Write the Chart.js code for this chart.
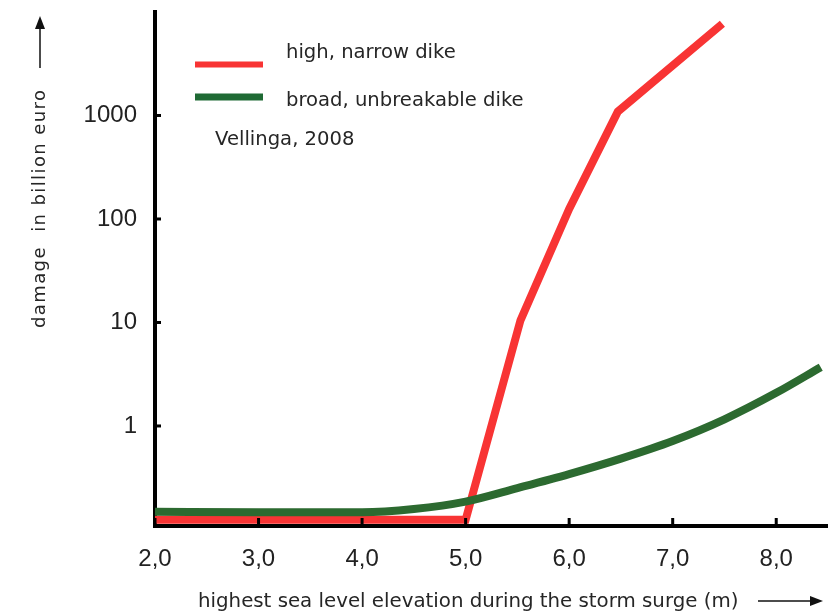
<!DOCTYPE html>
<html>
<head>
<meta charset="utf-8">
<title>Storm surge damage</title>
<script src="https://cdn.jsdelivr.net/npm/chart.js@4.4.1/dist/chart.umd.min.js"></script>
<style>
  html, body { margin: 0; padding: 0; background: #fff; }
  #wrap { width: 828px; height: 614px; }
</style>
</head>
<body>
<div id="wrap"><canvas id="damageChart" width="828" height="614"></canvas></div>
<script>
// values (x in m, y in billion euro)
const seriesNames = ['high, narrow dike', 'broad, unbreakable dike'];
const sourceNote = 'Vellinga, 2008';
const xTitle = 'highest sea level elevation during the storm surge (m)';
const yTitle = 'damage  in billion euro';

const narrowX = [2.0, 5.0, 5.53, 6.0, 6.47, 7.48];
const narrowY = [0.124, 0.124, 10.5, 125, 1090, 7700];

const broadX = [2.0, 3.0, 4.0, 4.5, 5.0, 5.5, 6.0, 6.5, 7.0, 7.5, 8.0, 8.43];
const broadY = [0.148, 0.147, 0.147, 0.158, 0.186, 0.251, 0.343, 0.484, 0.716, 1.16, 2.09, 3.7];

const xTicks = [2, 3, 4, 5, 6, 7, 8];
const yTicks = [1, 10, 100, 1000];

const RED = '#f83434';
const GREEN = '#2c6a30';
const TEXT = '#262626';

const toPoints = (xs, ys) => xs.map((x, i) => ({ x: x, y: ys[i] }));

// inward tick marks, legend, axis titles and arrows
const decorations = {
  id: 'decorations',
  afterDatasetsDraw(chart) {
    const ctx = chart.ctx;
    const xs = chart.scales.x;
    const ys = chart.scales.y;
    const area = chart.chartArea;
    ctx.save();
    ctx.fillStyle = '#000';
    yTicks.forEach(v => {
      const py = ys.getPixelForValue(v);
      ctx.fillRect(area.left + 1, py - 1.5, 5, 3);
    });
    xTicks.forEach(v => {
      const px = xs.getPixelForValue(v);
      ctx.fillRect(px - 1.5, area.bottom - 8, 3, 8);
    });
    ctx.restore();
  },
  afterDraw(chart) {
    const ctx = chart.ctx;
    ctx.save();

    // legend
    ctx.lineCap = 'butt';
    ctx.strokeStyle = RED;
    ctx.lineWidth = 6;
    ctx.beginPath(); ctx.moveTo(195, 64.5); ctx.lineTo(263, 64.5); ctx.stroke();
    ctx.strokeStyle = '#1f6a34';
    ctx.lineWidth = 7;
    ctx.beginPath(); ctx.moveTo(195, 97); ctx.lineTo(263, 97); ctx.stroke();

    ctx.fillStyle = TEXT;
    ctx.font = '19.6px "DejaVu Sans"';
    ctx.textAlign = 'left';
    ctx.textBaseline = 'middle';
    ctx.fillText(seriesNames[0], 286, 53);
    ctx.fillText(seriesNames[1], 286, 101);
    ctx.fillText(sourceNote, 215, 140);

    // x title + arrow
    ctx.font = '19.8px "DejaVu Sans"';
    ctx.fillText(xTitle, 198, 602);
    ctx.strokeStyle = '#111';
    ctx.fillStyle = '#111';
    ctx.lineWidth = 1.5;
    ctx.beginPath(); ctx.moveTo(758, 601); ctx.lineTo(814, 601); ctx.stroke();
    ctx.beginPath(); ctx.moveTo(823, 601); ctx.lineTo(810, 596); ctx.lineTo(810, 606); ctx.closePath(); ctx.fill();

    // y title + arrow
    ctx.save();
    ctx.translate(40, 328);
    ctx.rotate(-Math.PI / 2);
    ctx.fillStyle = TEXT;
    ctx.font = '18px "DejaVu Sans"';
    ctx.letterSpacing = '1.4px';
    ctx.fillText(yTitle, 0, 0);
    ctx.restore();
    ctx.beginPath(); ctx.moveTo(40, 68); ctx.lineTo(40, 24); ctx.stroke();
    ctx.beginPath(); ctx.moveTo(40, 16); ctx.lineTo(35, 29); ctx.lineTo(45, 29); ctx.closePath(); ctx.fill();

    ctx.restore();
  }
};

const ctx = document.getElementById('damageChart').getContext('2d');
new Chart(ctx, {
  type: 'line',
  data: {
    datasets: [
      {
        label: seriesNames[1],
        data: toPoints(broadX, broadY),
        borderColor: GREEN,
        borderWidth: 8,
        pointRadius: 0,
        cubicInterpolationMode: 'monotone',
        fill: false
      },
      {
        label: seriesNames[0],
        data: toPoints(narrowX, narrowY),
        borderColor: RED,
        borderWidth: 8,
        pointRadius: 0,
        tension: 0,
        fill: false
      }
    ]
  },
  options: {
    responsive: false,
    animation: false,
    events: [],
    layout: { padding: { top: 12, right: 0, left: 0, bottom: 0 } },
    plugins: {
      legend: { display: false },
      tooltip: { enabled: false }
    },
    scales: {
      x: {
        type: 'linear',
        min: 2,
        max: 8.5,
        afterFit: s => { s.height = 88; s.paddingLeft = 0; s.paddingRight = 0; },
        afterBuildTicks: s => { s.ticks = xTicks.map(v => ({ value: v })); },
        grid: { display: true, drawOnChartArea: false, drawTicks: false },
        border: { display: true, color: '#000', width: 4 },
        ticks: {
          padding: 19,
          color: '#222',
          font: { family: '"Liberation Sans", Arial', size: 24 },
          maxRotation: 0,
          callback: v => v.toFixed(1).replace('.', ',')
        }
      },
      y: {
        type: 'logarithmic',
        min: 0.108,
        max: 10000,
        afterFit: s => { s.width = 155; s.paddingTop = 0; s.paddingBottom = 0; },
        afterBuildTicks: s => { s.ticks = yTicks.map(v => ({ value: v })); },
        grid: { display: true, drawOnChartArea: false, drawTicks: false },
        border: { display: true, color: '#000', width: 4 },
        ticks: {
          padding: 18,
          color: '#222',
          font: { family: '"Liberation Sans", Arial', size: 24 },
          callback: v => String(v)
        }
      }
    }
  },
  plugins: [decorations]
});
</script>
</body>
</html>
